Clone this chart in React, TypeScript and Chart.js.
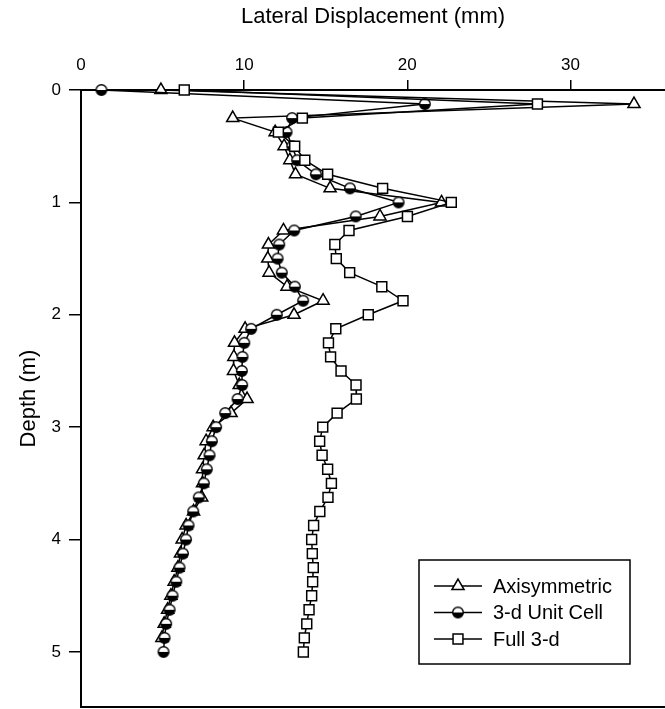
import React, { useEffect, useRef } from 'react';
import { Chart, registerables } from 'chart.js';
import { drawPoint } from 'chart.js/helpers';

Chart.register(...registerables);

// Depth below surface (m)
const depths = [
  0, 0.125, 0.25, 0.375, 0.5, 0.625, 0.75, 0.875, 1.0, 1.125,
  1.25, 1.375, 1.5, 1.625, 1.75, 1.875, 2.0, 2.125, 2.25, 2.375,
  2.5, 2.625, 2.75, 2.875, 3.0, 3.125, 3.25, 3.375, 3.5, 3.625,
  3.75, 3.875, 4.0, 4.125, 4.25, 4.375, 4.5, 4.625, 4.75, 4.875, 5.0,
];

// Lateral displacement (mm)
const axisymmetric = [
  4.9, 33.9, 9.3, 11.9, 12.45, 12.8, 13.15, 15.27, 22.1, 18.33,
  12.41, 11.49, 11.45, 11.53, 12.63, 14.84, 13.06, 10.06, 9.41, 9.37,
  9.35, 9.7, 10.18, 9.2, 8.1, 7.67, 7.55, 7.45, 7.45, 7.4,
  6.9, 6.44, 6.2, 6.1, 5.94, 5.71, 5.51, 5.31, 5.1, 4.96,
];

const unitCell = [
  1.25, 21.08, 12.94, 12.6, 12.95, 13.25, 14.4, 16.49, 19.47, 16.84,
  13.07, 12.15, 12.05, 12.31, 13.11, 13.62, 12.0, 10.43, 10.01, 9.9,
  9.86, 9.88, 9.6, 8.84, 8.28, 8.02, 7.88, 7.71, 7.53, 7.22,
  6.88, 6.59, 6.44, 6.25, 6.04, 5.84, 5.61, 5.43, 5.22, 5.12, 5.06,
];

const full3d = [
  6.33, 27.98, 13.57, 12.1, 13.1, 13.72, 15.12, 18.49, 22.7, 20.01,
  16.43, 15.56, 15.65, 16.47, 18.44, 19.74, 17.61, 15.62, 15.17, 15.3,
  15.94, 16.86, 16.88, 15.7, 14.82, 14.63, 14.78, 15.12, 15.35, 15.14,
  14.64, 14.26, 14.14, 14.18, 14.24, 14.2, 14.14, 13.98, 13.84, 13.69, 13.63,
];

const seriesLabels = ['Axisymmetric', '3-d Unit Cell', 'Full 3-d'];
const xTitle = 'Lateral Displacement (mm)';
const yTitle = 'Depth (m)';
const xMin = 0;
const xMax = 35.8;
const yMin = 0;
const yMax = 5.49;
const xStep = 10;
const yStep = 1;

const FONT = '"Liberation Sans", Arial, Helvetica, sans-serif';

function makeHalfCircle(): HTMLCanvasElement {
  const c = document.createElement('canvas');
  c.width = 14;
  c.height = 14;
  const g = c.getContext('2d')!;
  const cx = 7, cy = 7, r = 5.3;
  g.beginPath();
  g.arc(cx, cy, r, Math.PI, 2 * Math.PI);
  g.closePath();
  g.fillStyle = '#fff';
  g.fill();
  g.beginPath();
  g.arc(cx, cy, r, 0, Math.PI);
  g.closePath();
  g.fillStyle = '#000';
  g.fill();
  g.beginPath();
  g.arc(cx, cy, r, 0, 2 * Math.PI);
  g.lineWidth = 1.4;
  g.strokeStyle = '#000';
  g.stroke();
  return c;
}

const boxLegend = {
  id: 'boxLegend',
  afterDatasetsDraw(chart: any) {
    const ctx = chart.ctx as CanvasRenderingContext2D;
    const { right, bottom } = chart.chartArea;
    const bx = right - 246;
    const by = bottom - 147;
    const bw = 211;
    const bh = 104;
    ctx.save();
    ctx.fillStyle = '#fff';
    ctx.fillRect(bx, by, bw, bh);
    ctx.strokeStyle = '#000';
    ctx.lineWidth = 1.5;
    ctx.strokeRect(bx, by, bw, bh);
    chart.data.datasets.forEach((ds: any, i: number) => {
      const y = by + 26 + i * 26.5;
      ctx.beginPath();
      ctx.moveTo(bx + 15, y);
      ctx.lineTo(bx + 63, y);
      ctx.strokeStyle = '#000';
      ctx.lineWidth = 1.5;
      ctx.stroke();
      ctx.fillStyle = ds.pointBackgroundColor;
      ctx.strokeStyle = ds.pointBorderColor;
      ctx.lineWidth = ds.pointBorderWidth;
      drawPoint(ctx, { pointStyle: ds.pointStyle, radius: ds.pointRadius, borderWidth: ds.pointBorderWidth, rotation: 0 } as any, bx + 39, y);
      ctx.fillStyle = '#000';
      ctx.font = `20px ${FONT}`;
      ctx.textBaseline = 'middle';
      ctx.textAlign = 'left';
      ctx.fillText(ds.label, bx + 74, y + 1);
    });
    ctx.restore();
  },
};

const noPad = (s: any) => {
  s.paddingLeft = 0;
  s.paddingRight = 0;
  s.paddingTop = 0;
  s.paddingBottom = 0;
};

export default function App() {
  const ref = useRef<HTMLCanvasElement | null>(null);

  useEffect(() => {
    if (!ref.current) return;
    const half = makeHalfCircle();
    const toPts = (vals: number[]) => vals.map((v, i) => ({ x: v, y: depths[i] }));
    const common = {
      showLine: true,
      borderColor: '#000',
      borderWidth: 1.5,
      pointBorderColor: '#000',
      pointBackgroundColor: '#fff',
      pointBorderWidth: 1.5,
      clip: false,
      xAxisID: 'x',
      yAxisID: 'y',
    };
    const chart = new Chart(ref.current, {
      type: 'scatter',
      data: {
        datasets: [
          { ...common, label: seriesLabels[0], data: toPts(axisymmetric), pointStyle: 'triangle', pointRadius: 7, order: 2 },
          { ...common, label: seriesLabels[1], data: toPts(unitCell), pointStyle: half, pointRadius: 6, pointBackgroundColor: '#000', order: 1 },
          { ...common, label: seriesLabels[2], data: toPts(full3d), pointStyle: 'rect', pointRadius: 7, order: 0 },
        ] as any,
      },
      options: {
        animation: false,
        responsive: false,
        devicePixelRatio: 1,
        layout: { padding: 0, autoPadding: false },
        plugins: { legend: { display: false }, tooltip: { enabled: false } },
        scales: {
          x: {
            type: 'linear',
            position: 'top',
            min: xMin,
            max: xMax,
            ticks: { stepSize: xStep, includeBounds: false, color: '#000', font: { family: FONT, size: 17 }, padding: 4 },
            grid: {
              drawOnChartArea: false,
              drawTicks: true,
              tickLength: 10,
              lineWidth: 1.5,
              color: (c: any) => (c.tick && c.tick.value === 0 ? 'rgba(0,0,0,0)' : '#000'),
            },
            border: { display: true, color: '#000', width: 2 },
            title: { display: true, text: xTitle, color: '#000', font: { family: FONT, size: 22 }, padding: { top: 4, bottom: 0 } },
            afterFit: (s: any) => { s.height = 90; noPad(s); },
          },
          x2: {
            type: 'linear',
            position: 'bottom',
            min: xMin,
            max: xMax,
            ticks: { display: false },
            grid: { display: false, drawTicks: false },
            border: { display: true, color: '#000', width: 2 },
            afterFit: (s: any) => { s.height = 2; noPad(s); },
          },
          y: {
            type: 'linear',
            reverse: true,
            min: yMin,
            max: yMax,
            ticks: { stepSize: yStep, includeBounds: false, color: '#000', font: { family: FONT, size: 17 }, padding: 8 },
            grid: { drawOnChartArea: false, drawTicks: true, tickLength: 12, lineWidth: 1.5, color: '#000' },
            border: { display: true, color: '#000', width: 2 },
            title: { display: true, text: yTitle, color: '#000', font: { family: FONT, size: 22 }, padding: { top: 16, bottom: 0 } },
            afterFit: (s: any) => { s.width = 81; noPad(s); },
          },
        },
      } as any,
      plugins: [boxLegend],
    });
    return () => chart.destroy();
  }, []);

  return (
    <div style={{ position: 'absolute', left: 0, top: 0, width: 665, height: 709, background: '#fff' }}>
      <canvas ref={ref} width={665} height={709} style={{ display: 'block' }} />
    </div>
  );
}
